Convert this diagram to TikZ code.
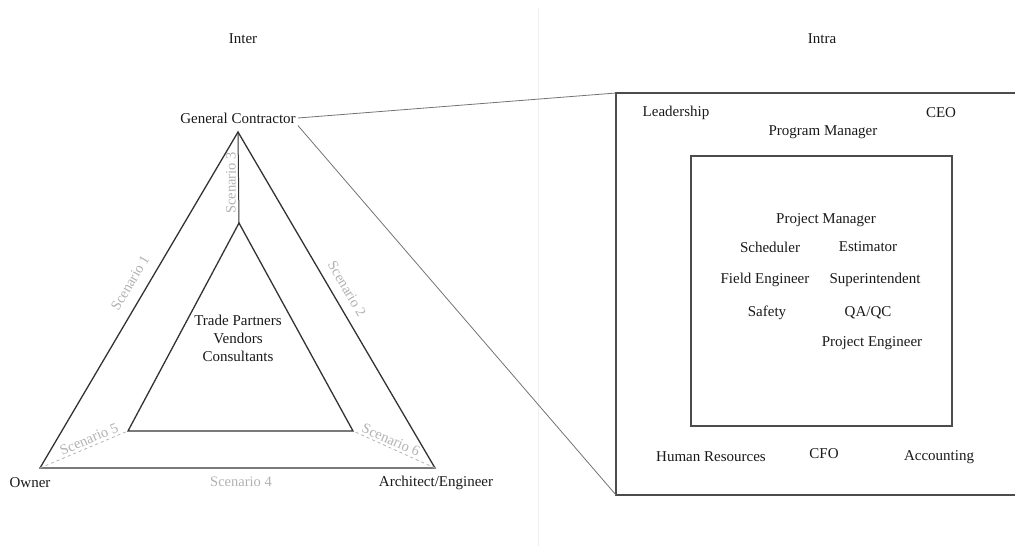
\documentclass[tikz,border=0pt]{standalone}
\usepackage{fontspec}
\setmainfont{Liberation Serif}
\begin{document}
\begin{tikzpicture}[x=1pt,y=-1pt,
  lbl/.style={font=\fontsize{15}{17}\selectfont, text=black!90, inner sep=2pt},
  scen/.style={font=\fontsize{14.5}{16}\selectfont, text=black!30, inner sep=1pt},
  edge/.style={draw=black!80, line width=1.3pt},
  link/.style={draw=black!55, line width=0.8pt},
  box/.style={draw=black!70, line width=1.3pt},
  dashline/.style={draw=black!30, dashed, line width=0.8pt}]
\useasboundingbox (0,0) rectangle (1015,546);

% faint divider between the two halves
\draw[black!6, line width=1pt] (538,8) -- (538,546);

% headings
\node[lbl] (inter) at (243,39) {Inter};
\node[lbl] (intra) at (822,39) {Intra};

% triangle corners
\coordinate (gcv) at (238,132);
\coordinate (ow) at (40,468);
\coordinate (ae) at (435,468);
\coordinate (it) at (239,223);
\coordinate (il) at (128,431);
\coordinate (ir) at (353,431);

% outer and inner triangles
\draw[edge, line join=miter] (gcv) -- (ow) -- (ae) -- cycle;
\draw[edge, line join=miter] (it) -- (il) -- (ir) -- cycle;
\draw[edge, line width=1pt] (gcv) -- (it);
\draw[dashline] (ow) -- (il);
\draw[dashline] (ae) -- (ir);

% corner labels
\node[lbl] (gc) at (238,118) {General Contractor};
\node[lbl] (owner) at (30,483) {Owner};
\node[lbl] (arch) at (436,483) {Architect/Engineer};

% centre labels
\node[lbl] (tp) at (238,320) {Trade Partners};
\node[lbl] (vd) at (238,338) {Vendors};
\node[lbl] (cs) at (238,356) {Consultants};

% scenario labels
\node[scen, rotate=59.5] (s1) at (130,283) {Scenario 1};
\node[scen, rotate=-59.5] (s2) at (347,289) {Scenario 2};
\node[scen, rotate=90] (s3) at (231,183) {Scenario 3};
\node[scen] (s4) at (241,482) {Scenario 4};
\node[scen, rotate=23] (s5) at (89,439) {Scenario 5};
\node[scen, rotate=-24] (s6) at (391,440) {Scenario 6};

% company boxes
\coordinate (otl) at (616,93);
\coordinate (obl) at (616,495);
\draw[box] (1030,93) -- (otl) -- (obl) -- (1030,495);
\draw[box] (691,156) rectangle (952,426);

% zoom-in connectors
\draw[link] (gc.east) -- (otl);
\draw[link] (gc.south east) -- (obl);

% company roles
\node[lbl] (lead) at (676,113) {Leadership};
\node[lbl] (ceo) at (941,113) {CEO};
\node[lbl] (pgm) at (823,132) {Program Manager};
\node[lbl] (pm) at (826,220) {Project Manager};
\node[lbl] (sch) at (770,247) {Scheduler};
\node[lbl] (est) at (868,247) {Estimator};
\node[lbl] (fe) at (765,280) {Field Engineer};
\node[lbl] (sup) at (875,280) {Superintendent};
\node[lbl] (saf) at (767,313) {Safety};
\node[lbl] (qa) at (868,313) {QA/QC};
\node[lbl] (pe) at (872,343) {Project Engineer};
\node[lbl] (hr) at (711,457) {Human Resources};
\node[lbl] (cfo) at (824,454) {CFO};
\node[lbl] (acc) at (939,457) {Accounting};
\end{tikzpicture}
\end{document}
